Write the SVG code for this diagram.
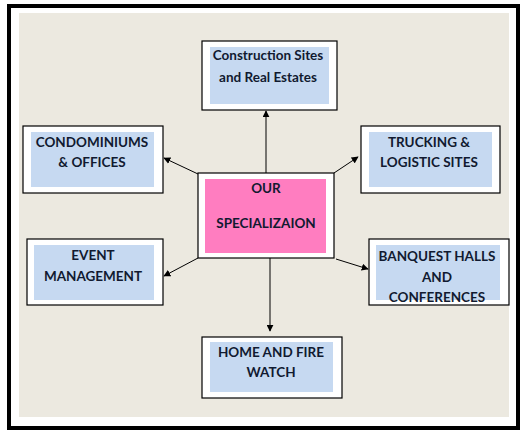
<svg xmlns="http://www.w3.org/2000/svg" width="526" height="435" viewBox="0 0 526 435">
<style>
.outer{fill:#ffffff;stroke:#000000;stroke-width:1.2}
.blue{fill:#C6D9F1}
.pink{fill:#FF7DC0}
.t{font-family:Lato,"Liberation Sans",Arial,sans-serif;font-weight:bold;font-size:13.5px;fill:#111a30;text-anchor:middle}
.c{stroke:#000000;stroke-width:1;fill:none;marker-end:url(#ah)}
</style>
<defs>
<marker id="ah" viewBox="0 0 10 10" refX="9" refY="5" markerWidth="7" markerHeight="7" markerUnits="userSpaceOnUse" orient="auto">
<path d="M0,0 L10,5 L0,10 z" fill="#000000"/>
</marker>
</defs>
<rect x="0" y="0" width="526" height="435" fill="#ffffff"/>
<rect x="9" y="6" width="509" height="422" fill="#ffffff" stroke="#000000" stroke-width="4"/>
<rect x="19" y="13" width="490" height="404" fill="#ECE9E0"/>
<g id="connectors">
<line class="c" x1="266" y1="173" x2="266" y2="111"/>
<line class="c" x1="198" y1="174" x2="164" y2="158"/>
<line class="c" x1="334" y1="173" x2="358" y2="157"/>
<line class="c" x1="198" y1="258" x2="164" y2="276"/>
<line class="c" x1="336" y1="259" x2="368" y2="269"/>
<line class="c" x1="270" y1="258" x2="270" y2="331"/>
</g>
<g id="center">
<rect class="outer" x="198" y="173" width="136" height="85"/>
<rect class="pink" x="205" y="179" width="121" height="74"/>
<text class="t" x="266" y="193">OUR</text>
<text class="t" x="266" y="228">SPECIALIZAION</text>
</g>
<g id="construction">
<rect class="outer" x="202" y="41" width="135" height="69"/>
<rect class="blue" x="210" y="47" width="119" height="57"/>
<text class="t" x="268" y="60">Construction Sites</text>
<text class="t" x="268" y="82">and Real Estates</text>
</g>
<g id="condominiums">
<rect class="outer" x="23" y="126" width="140" height="67"/>
<rect class="blue" x="31" y="132" width="123" height="55"/>
<text class="t" x="92" y="147">CONDOMINIUMS</text>
<text class="t" x="92" y="167">&amp; OFFICES</text>
</g>
<g id="trucking">
<rect class="outer" x="361" y="126" width="139" height="67"/>
<rect class="blue" x="369" y="132" width="123" height="55"/>
<text class="t" x="429" y="147">TRUCKING &amp;</text>
<text class="t" x="429" y="167">LOGISTIC SITES</text>
</g>
<g id="event">
<rect class="outer" x="27" y="239" width="136" height="66"/>
<rect class="blue" x="34" y="245" width="120" height="55"/>
<text class="t" x="93" y="260">EVENT</text>
<text class="t" x="93" y="281">MANAGEMENT</text>
</g>
<g id="banquet">
<rect class="outer" x="369" y="239" width="140" height="66"/>
<rect class="blue" x="376" y="245" width="124" height="55"/>
<text class="t" x="437" y="261">BANQUEST HALLS</text>
<text class="t" x="437" y="282">AND</text>
<text class="t" x="437" y="302">CONFERENCES</text>
</g>
<g id="home">
<rect class="outer" x="202" y="337" width="140" height="61"/>
<rect class="blue" x="210" y="342" width="123" height="50"/>
<text class="t" x="271" y="357">HOME AND FIRE</text>
<text class="t" x="271" y="377">WATCH</text>
</g>
</svg>
